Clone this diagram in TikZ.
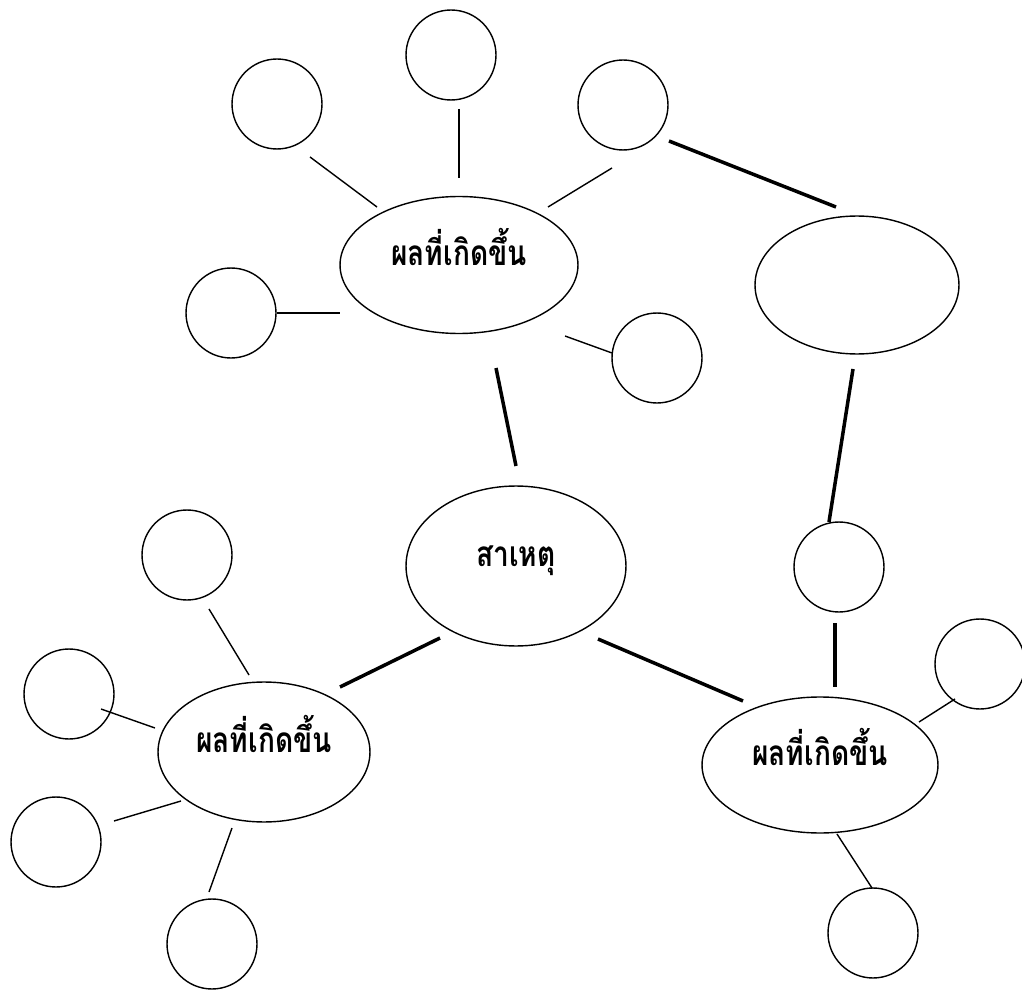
\documentclass[tikz,border=0pt]{standalone}
\usepackage{fontspec}
\newfontfamily\thaifont[Script=Thai,FakeStretch=0.8]{Loma}
\usetikzlibrary{shapes.geometric}

\tikzset{
  ring/.style={draw, circle, line width=0.8pt, minimum size=1.8cm, inner sep=0pt},
  oval/.style={draw, ellipse, line width=0.8pt, inner sep=0pt,
               text height=0.5cm, text depth=0.5cm,
               font=\thaifont\bfseries\fontsize{20}{24}\selectfont},
  link/.style={line width=0.8pt},
  bond/.style={line width=2pt},
}

\begin{document}
\begin{tikzpicture}[x=0.02cm, y=-0.02cm]
    \useasboundingbox (0,0) rectangle (1022,990);

    % shapes
    \node[oval, minimum width=4.76cm, minimum height=2.74cm] (top) at (459,265) {ผลที่เกิดขึ้น};
    \node[oval, minimum width=4.08cm, minimum height=2.76cm] (side) at (857,285) {};
    \node[oval, minimum width=4.4cm, minimum height=3.2cm] (cause) at (516,566) {สาเหตุ};
    \node[oval, minimum width=4.24cm, minimum height=2.8cm] (left) at (264,752) {ผลที่เกิดขึ้น};
    \node[oval, minimum width=4.72cm, minimum height=2.72cm] (right) at (820,765) {ผลที่เกิดขึ้น};

    \node[ring] (c1) at (277,104) {};
    \node[ring] (c2) at (451,55) {};
    \node[ring] (c3) at (623,105) {};
    \node[ring] (c4) at (231,313) {};
    \node[ring] (c5) at (657,358) {};
    \node[ring] (c6) at (839,567) {};
    \node[ring] (c7) at (980,664) {};
    \node[ring] (c8) at (873,933) {};
    \node[ring] (c9) at (187,555) {};
    \node[ring] (c10) at (69,694) {};
    \node[ring] (c11) at (56,842) {};
    \node[ring] (c12) at (212,944) {};

    % loose line ends
    \coordinate (c1-top) at (310,157);  \coordinate (top-c1) at (377,207);
    \coordinate (c2-top) at (459,109);  \coordinate (top-c2) at (459,178);
    \coordinate (c3-top) at (612,168);  \coordinate (top-c3) at (548,207);
    \coordinate (c4-top) at (277,313);  \coordinate (top-c4) at (340,313);
    \coordinate (c5-top) at (612,353);  \coordinate (top-c5) at (565,336);
    \coordinate (c3-side) at (669,141); \coordinate (side-c3) at (836,207);
    \coordinate (top-cause) at (496,368); \coordinate (cause-top) at (516,466);
    \coordinate (side-c6) at (853,369); \coordinate (c6-side) at (829,522);
    \coordinate (c6-right) at (835,623); \coordinate (right-c6) at (835,687);
    \coordinate (cause-left) at (440,638); \coordinate (left-cause) at (340,687);
    \coordinate (cause-right) at (598,639); \coordinate (right-cause) at (743,701);
    \coordinate (c9-left) at (209,609); \coordinate (left-c9) at (249,675);
    \coordinate (c10-left) at (101,709); \coordinate (left-c10) at (155,728);
    \coordinate (c11-left) at (114,821); \coordinate (left-c11) at (181,801);
    \coordinate (c12-left) at (209,892); \coordinate (left-c12) at (232,828);
    \coordinate (right-c7) at (919,722); \coordinate (c7-right) at (955,699);
    \coordinate (right-c8) at (837,834); \coordinate (c8-right) at (872,888);

    % thin links
    \draw[link] (c1-top) -- (top-c1);
    \draw[link] (c2-top) -- (top-c2);
    \draw[link] (c3-top) -- (top-c3);
    \draw[link] (c4-top) -- (top-c4);
    \draw[link] (c5-top) -- (top-c5);
    \draw[link] (c9-left) -- (left-c9);
    \draw[link] (c10-left) -- (left-c10);
    \draw[link] (c11-left) -- (left-c11);
    \draw[link] (c12-left) -- (left-c12);
    \draw[link] (right-c7) -- (c7-right);
    \draw[link] (right-c8) -- (c8-right);

    % thick links
    \draw[bond] (c3-side) -- (side-c3);
    \draw[bond] (top-cause) -- (cause-top);
    \draw[bond] (side-c6) -- (c6-side);
    \draw[bond] (c6-right) -- (right-c6);
    \draw[bond] (cause-left) -- (left-cause);
    \draw[bond] (cause-right) -- (right-cause);
\end{tikzpicture}
\end{document}
